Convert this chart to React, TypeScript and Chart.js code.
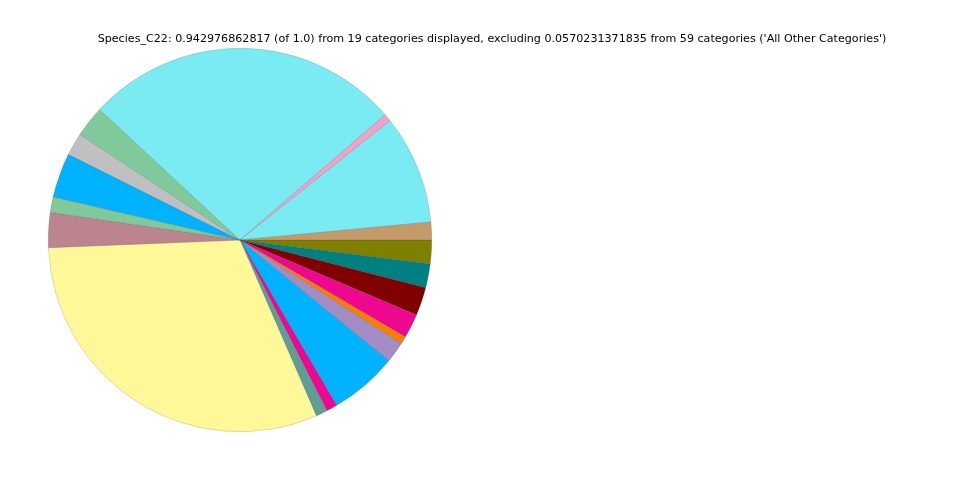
import React, { useEffect, useRef } from "react";
import { Chart, registerables } from "chart.js";

Chart.register(...registerables);

const TITLE =
  "Species_C22: 0.942976862817 (of 1.0) from 19 categories displayed, excluding 0.0570231371835 from 59 categories ('All Other Categories')";

// Listed counter-clockwise from the east (matplotlib order)
const categories = [
  "Cat 1", "Cat 2", "Cat 3", "Cat 4", "Cat 5", "Cat 6", "Cat 7", "Cat 8", "Cat 9", "Cat 10",
  "Cat 11", "Cat 12", "Cat 13", "Cat 14", "Cat 15", "Cat 16", "Cat 17", "Cat 18", "Cat 19",
];
const values = [
  0.0141, 0.0867, 0.006, 0.2523, 0.0249, 0.0181, 0.0354, 0.0123, 0.0278, 0.2913,
  0.0092, 0.0086, 0.0542, 0.0164, 0.0062, 0.0194, 0.0225, 0.0189, 0.0189,
];
const colors = [
  "#c49a6c", "#7aebf3", "#f4a0c8", "#7aebf3", "#80c99a", "#c0c0c0", "#00b2ff", "#80c99a", "#bc848f", "#fff899",
  "#5f9e96", "#ee0890", "#00b2ff", "#a38cc4", "#f57f00", "#ee0890", "#800000", "#008080", "#808000",
];

const titlePlugin = {
  id: "topTitle",
  afterDraw(chart: any) {
    const ctx = chart.ctx;
    ctx.save();
    ctx.font = "11.12px 'DejaVu Sans'";
    ctx.fillStyle = "#000";
    ctx.textAlign = "center";
    ctx.textBaseline = "middle";
    ctx.fillText(TITLE, 492, 39);
    ctx.restore();
  },
};

export default function App() {
  const ref = useRef<HTMLCanvasElement | null>(null);
  useEffect(() => {
    document.body.style.margin = "0";
    const labels = [...categories].reverse();
    const data = [...values].reverse();
    const bg = [...colors].reverse();
    const chart = new Chart(ref.current as HTMLCanvasElement, {
      type: "pie",
      data: {
        labels,
        datasets: [
          {
            data,
            backgroundColor: bg,
            borderColor: "rgba(60,60,60,0.35)",
            borderWidth: 0.5,
          },
        ],
      },
      options: {
        responsive: false,
        animation: false,
        rotation: 90,
        layout: { padding: { left: 48, right: 528, top: 48, bottom: 48 } },
        plugins: {
          legend: { display: false },
          tooltip: { enabled: false },
          title: { display: false },
        },
      },
      plugins: [titlePlugin],
    });
    return () => chart.destroy();
  }, []);
  return (
    <div style={{ position: "absolute", left: 0, top: 0, width: 960, height: 480, background: "#fff" }}>
      <canvas ref={ref} width={960} height={480} />
    </div>
  );
}
